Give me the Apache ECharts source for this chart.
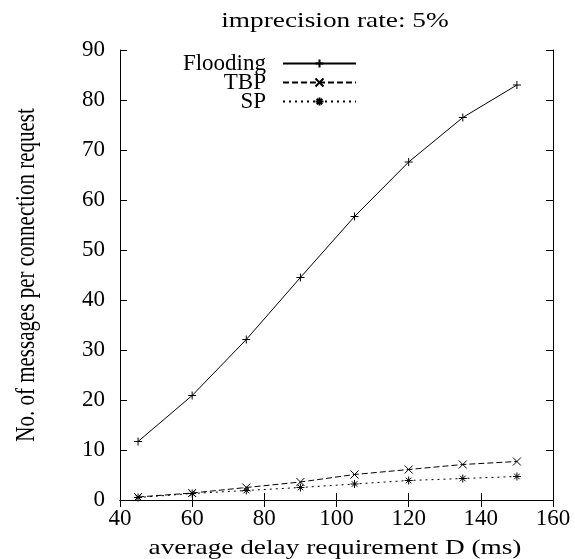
<!DOCTYPE html>
<html>
<head>
<meta charset="utf-8">
<script src="https://cdn.jsdelivr.net/npm/echarts@6/dist/echarts.min.js"></script>
<style>
html,body{margin:0;padding:0;background:#fff;}
#chart{width:575px;height:559px;}
</style>
</head>
<body>
<div id="chart"></div>
<script>
var delays = [45, 60, 75, 90, 105, 120, 135, 150];
var flooding = [11.7, 20.9, 32.1, 44.5, 56.7, 67.6, 76.5, 83.0];
var tbp = [0.6, 1.4, 2.5, 3.6, 5.1, 6.1, 7.1, 7.7];
var sp = [0.5, 1.3, 1.9, 2.5, 3.2, 3.9, 4.3, 4.7];
var xTicks = [40, 60, 80, 100, 120, 140, 160];
var yTicks = [0, 10, 20, 30, 40, 50, 60, 70, 80, 90];
var seriesNames = ['Flooding', 'TBP', 'SP'];
var titleText = 'imprecision rate: 5%';
var xTitle = 'average delay requirement D (ms)';
var yTitle = 'No. of messages per connection request';

var FONT = '"Liberation Serif", "Times New Roman", serif';
var symPlus = 'path://M0,5L10,5M5,0L5,10';
var symCross = 'path://M0,0L10,10M0,10L10,0';
var symStar = 'path://M0,5L10,5M5,0L5,10M1.5,1.5L8.5,8.5M1.5,8.5L8.5,1.5';

function pairs(ys) { return delays.map(function (d, i) { return [d, ys[i]]; }); }

var chart = echarts.init(document.getElementById('chart'), null, {renderer: 'canvas'});

function mkSeries(name, data, sym, dash) {
  return {
    name: name, type: 'line', data: pairs(data),
    symbol: sym, symbolSize: 8, showSymbol: true,
    xAxisIndex: 0, yAxisIndex: 0,
    lineStyle: {color: '#000', width: 1, type: dash},
    itemStyle: {color: '#000', borderColor: '#000', borderWidth: 1},
    emphasis: {disabled: true},
    animation: false, z: 3
  };
}

function mkLegend(name, top) {
  return {
    data: [name], orient: 'horizontal', align: 'right',
    right: 218, top: top, padding: 0,
    itemWidth: 73, itemHeight: 10,
    selectedMode: false,
    textStyle: {fontFamily: FONT, fontSize: 23, color: '#000', padding: [0, 12, 0, 0]}
  };
}

var axisCommon = {
  axisLine: {show: true, lineStyle: {color: '#000', width: 1}},
  axisTick: {show: true, inside: true, length: 7, lineStyle: {color: '#000', width: 1}},
  splitLine: {show: false}
};

chart.setOption({
  backgroundColor: '#fff',
  animation: false,
  grid: {left: 120, right: 22, top: 50, bottom: 59, containLabel: false},
  xAxis: [
    Object.assign({type: 'value', position: 'bottom', min: xTicks[0], max: xTicks[xTicks.length - 1], interval: 20,
      axisLabel: {fontFamily: FONT, fontSize: 23, color: '#000', margin: 7}}, axisCommon),
    Object.assign({type: 'value', position: 'top', min: xTicks[0], max: xTicks[xTicks.length - 1], interval: 20,
      axisLabel: {show: false}}, axisCommon)
  ],
  yAxis: [
    Object.assign({type: 'value', position: 'left', min: yTicks[0], max: yTicks[yTicks.length - 1], interval: 10,
      axisLabel: {fontFamily: FONT, fontSize: 23, color: '#000', margin: 15}}, axisCommon),
    Object.assign({type: 'value', position: 'right', min: yTicks[0], max: yTicks[yTicks.length - 1], interval: 10,
      axisLabel: {show: false}}, axisCommon)
  ],
  legend: [mkLegend(seriesNames[0], 52), mkLegend(seriesNames[1], 71), mkLegend(seriesNames[2], 90)],
  series: [
    mkSeries(seriesNames[0], flooding, symPlus, 'solid'),
    mkSeries(seriesNames[1], tbp, symCross, [6, 3]),
    mkSeries(seriesNames[2], sp, symStar, [2, 4])
  ],
  graphic: [
    {type: 'text', x: 335, y: 21, scaleX: 1.3, silent: true,
      style: {text: titleText, font: '21px ' + FONT, fill: '#000', textAlign: 'center', textVerticalAlign: 'middle'}},
    {type: 'text', x: 335, y: 548, scaleX: 1.3, silent: true,
      style: {text: xTitle, font: '21px ' + FONT, fill: '#000', textAlign: 'center', textVerticalAlign: 'middle'}},
    {type: 'text', x: 27, y: 275, rotation: Math.PI / 2, scaleY: 1.3, silent: true,
      style: {text: yTitle, font: '21px ' + FONT, fill: '#000', textAlign: 'center', textVerticalAlign: 'middle'}}
  ]
});
</script>
</body>
</html>
